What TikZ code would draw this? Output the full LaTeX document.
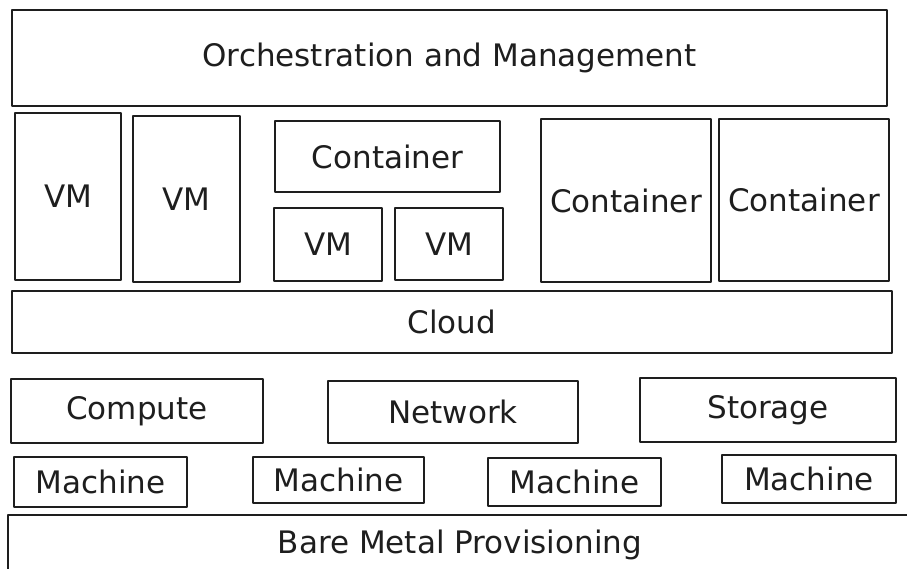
\documentclass[tikz,border=0pt]{standalone}
\usepackage{fontspec}
\setmainfont{DejaVu Sans}
\definecolor{ink}{HTML}{1E1E1E}
\begin{document}
\begin{tikzpicture}[x=1pt,y=-1pt,
  box/.style={draw=ink, line width=2.5pt, inner sep=0pt, text=ink,
    font=\fontsize{31}{36}\selectfont, line join=round}]
\useasboundingbox (0,0) rectangle (907,568);
\clip (0,0) rectangle (907,568);
\node[box, minimum width=875pt, minimum height=96pt] (orch) at (449.5,58) {Orchestration and Management};
\node[box, minimum width=106pt, minimum height=167pt] (vm1) at (68,196.5) {VM};
\node[box, minimum width=107pt, minimum height=166pt] (vm2) at (186.5,199) {VM};
\node[box, minimum width=225pt, minimum height=71pt] (cont1) at (387.5,156.5) {Container};
\node[box, minimum width=108pt, minimum height=73pt] (vm3) at (328,244.5) {VM};
\node[box, minimum width=108pt, minimum height=72pt] (vm4) at (449,244) {VM};
\node[box, minimum width=170pt, minimum height=163pt] (cont2) at (626,200.5) {Container};
\node[box, minimum width=170pt, minimum height=162pt] (cont3) at (804,200) {Container};
\node[box, minimum width=880pt, minimum height=62pt] (cloud) at (452,322) {Cloud};
\node[box, minimum width=252pt, minimum height=64pt] (compute) at (137,411) {Compute};
\node[box, minimum width=250pt, minimum height=62pt] (network) at (453,412) {Network};
\node[box, minimum width=256pt, minimum height=64pt] (storage) at (768,410) {Storage};
\node[box, minimum width=173pt, minimum height=50pt] (m1) at (100.5,482) {Machine};
\node[box, minimum width=171pt, minimum height=46pt] (m2) at (338.5,480) {Machine};
\node[box, minimum width=173pt, minimum height=48pt] (m3) at (574.5,482) {Machine};
\node[box, minimum width=174pt, minimum height=48pt] (m4) at (809,479) {Machine};
\node[box, minimum width=904pt, minimum height=60pt] (bare) at (460,545) {Bare Metal Provisioning};
\end{tikzpicture}
\end{document}
